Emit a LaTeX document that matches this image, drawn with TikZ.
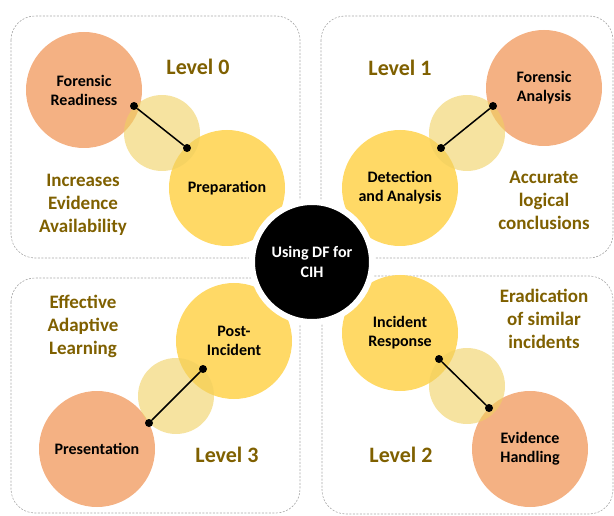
\documentclass[tikz,border=0pt]{standalone}
\usepackage{fontspec}
\setmainfont{Carlito}
\definecolor{peach}{HTML}{F4B183}
\definecolor{gold}{HTML}{FFD966}
\definecolor{haze}{HTML}{F0D060}
\definecolor{olive}{HTML}{7F6000}
\tikzset{
  frame/.style={draw=gray!70, dash pattern=on 2pt off 1.5pt, line width=0.6pt, rounded corners=24pt},
  stage/.style={circle, fill=gold, minimum size=116pt, inner sep=0pt, align=center,
    font=\bfseries\fontsize{16}{19}\selectfont},
  phase/.style={stage, fill=peach},
  overlap/.style={circle, fill=haze, fill opacity=0.6, minimum size=76pt, inner sep=0pt},
  joint/.style={circle, fill=black, minimum size=8pt, inner sep=0pt},
  level/.style={text=olive, font=\bfseries\fontsize{22}{24}\selectfont},
  gain/.style={text=olive, align=center, font=\bfseries\fontsize{19}{23}\selectfont},
}
\begin{document}
\begin{tikzpicture}[x=1pt, y=-1pt]
    \useasboundingbox (0,0) rectangle (614,516);

    % four quadrants
    \draw[frame] (11,16) rectangle (300,258);
    \draw[frame] (321,16) rectangle (613,258);
    \draw[frame] (11,278) rectangle (300,513);
    \draw[frame] (322,276) rectangle (613,514);

    % Level 0
    \node[phase] (readiness) at (84,90) {Forensic\\Readiness};
    \node[stage] (preparation) at (227,188) {Preparation};
    \node[overlap] (lap0) at (162,133) {};
    \node[joint] (a0) at (134,106) {};
    \node[joint] (b0) at (187,148) {};
    \draw[line width=1.5pt] (a0) -- (b0);
    \node[level] (lvl0) at (198,67) {Level 0};
    \node[gain] (gain0) at (83,205) {Increases\\Evidence\\Availability};

    % Level 1
    \node[stage] (detection) at (400,188) {Detection\\and Analysis};
    \node[phase] (analysis) at (544,88) {Forensic\\Analysis};
    \node[overlap] (lap1) at (467,133) {};
    \node[joint] (a1) at (441,148) {};
    \node[joint] (b1) at (493,106) {};
    \draw[line width=1.5pt] (a1) -- (b1);
    \node[level] (lvl1) at (400,68) {Level 1};
    \node[gain] (gain1) at (544,200) {Accurate\\logical\\conclusions};

    % Level 2
    \node[stage] (response) at (400,333) {Incident\\Response};
    \node[phase] (handling) at (530,449) {Evidence\\Handling};
    \node[overlap] (lap2) at (467,386) {};
    \node[joint] (a2) at (439,359) {};
    \node[joint] (b2) at (489,408) {};
    \draw[line width=1.5pt] (a2) -- (b2);
    \node[level] (lvl2) at (401,455) {Level 2};
    \node[gain] (gain2) at (544,319) {Eradication\\of similar\\incidents};

    % Level 3
    \node[stage] (post) at (234,341) {Post-\\Incident};
    \node[phase] (presentation) at (97,449) {Presentation};
    \node[overlap] (lap3) at (176,396) {};
    \node[joint] (a3) at (203,369) {};
    \node[joint] (b3) at (149,423) {};
    \draw[line width=1.5pt] (a3) -- (b3);
    \node[level] (lvl3) at (227,455) {Level 3};
    \node[gain] (gain3) at (83,326) {Effective\\Adaptive\\Learning};

    % hub
    \node[circle, fill=black, draw=white, line width=6pt, minimum size=120pt, inner sep=0pt,
      text=white, align=center, font=\bfseries\fontsize{16}{20}\selectfont]
      (hub) at (312,262) {Using DF for\\CIH};
\end{tikzpicture}
\end{document}
